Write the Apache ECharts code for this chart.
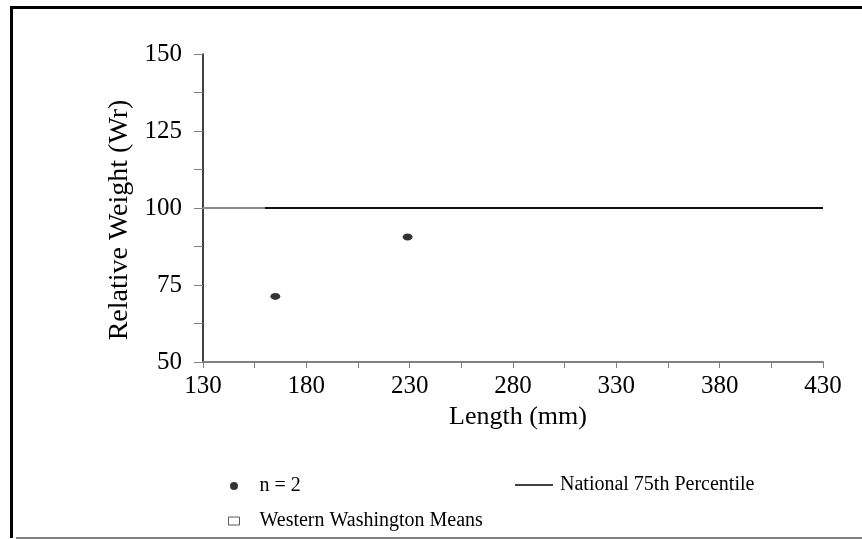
<!DOCTYPE html>
<html>
<head>
<meta charset="utf-8">
<script src="https://cdn.jsdelivr.net/npm/echarts@6/dist/echarts.min.js"></script>
<style>
  html, body { margin: 0; padding: 0; background: #fff; }
  #main { width: 862px; height: 539px; }
</style>
</head>
<body>
<div id="main"></div>
<script>
// fish sampled (n = 2)
const sampleLength = [165, 229];
const sampleWr = [71.3, 90.6];
// national 75th percentile standard line
const nationalLength = [160, 430];
const nationalWr = [100, 100];
// faint lead-in from the axis to the start of the standard line
const leadLength = [130, 160];
const leadWr = [100, 100];
// western washington means: no points in this plot
const westernLength = [];
const westernWr = [];

const xTicks = [130, 430, 50];
const yTicks = [50, 150, 25];

const font = 'Liberation Serif';
const ellipse = 'path://M0,5a5,5 0 1,0 10,0a5,5 0 1,0 -10,0z';

const pairs = (xs, ys) => xs.map((x, i) => [x, ys[i]]);

const chartDom = document.getElementById('main');
const myChart = echarts.init(chartDom);

const option = {
  backgroundColor: '#ffffff',
  animation: false,
  textStyle: { fontFamily: font, color: '#000' },
  grid: { left: 203, right: 39, top: 54, bottom: 177 },
  xAxis: {
    type: 'value',
    min: xTicks[0], max: xTicks[1], interval: xTicks[2],
    name: 'Length (mm)',
    nameLocation: 'middle',
    nameGap: 33,
    nameTextStyle: { fontFamily: font, fontSize: 26, color: '#000', padding: [0, 0, 0, 10] },
    axisLine: { lineStyle: { color: '#808080', width: 2 } },
    axisTick: { show: true, length: 6, lineStyle: { color: '#808080' } },
    minorTick: { show: true, splitNumber: 2, length: 6, lineStyle: { color: '#808080' } },
    axisLabel: { fontFamily: font, fontSize: 25, color: '#000', margin: 12 },
    splitLine: { show: false }
  },
  yAxis: {
    type: 'value',
    min: yTicks[0], max: yTicks[1], interval: yTicks[2],
    name: 'Relative Weight (Wr)',
    nameLocation: 'middle',
    nameGap: 68,
    nameTextStyle: { fontFamily: font, fontSize: 28, color: '#000', padding: [0, 24, 0, 0] },
    axisLine: { show: true, onZero: false, lineStyle: { color: '#000', width: 1.5 } },
    axisTick: { show: true, length: 9, lineStyle: { color: '#808080' } },
    minorTick: { show: true, splitNumber: 2, length: 9, lineStyle: { color: '#808080' } },
    axisLabel: { fontFamily: font, fontSize: 25, color: '#000', margin: 21 },
    splitLine: { show: false }
  },
  legend: [
    {
      orient: 'vertical',
      left: 223, top: 471,
      itemGap: 15,
      itemWidth: 11, itemHeight: 8,
      textStyle: { fontFamily: font, fontSize: 20, color: '#000', padding: [0, 0, 0, 15] },
      data: [
        { name: 'n = 2', icon: ellipse, itemStyle: { color: '#000' } },
        { name: 'Western Washington Means', icon: 'rect',
          itemStyle: { color: '#fff', borderColor: '#333', borderWidth: 1 } }
      ]
    },
    {
      left: 510, top: 470,
      itemWidth: 38, itemHeight: 1.5,
      textStyle: { fontFamily: font, fontSize: 20, color: '#000', padding: [0, 0, 0, 2] },
      data: [{ name: 'National 75th Percentile', icon: 'rect', itemStyle: { color: '#000' } }]
    }
  ],
  graphic: [
    { type: 'rect', shape: { x: 10, y: 6, width: 852, height: 3 }, style: { fill: '#000' }, silent: true },
    { type: 'rect', shape: { x: 10, y: 6, width: 3, height: 532 }, style: { fill: '#000' }, silent: true },
    { type: 'rect', shape: { x: 16, y: 537, width: 846, height: 2 }, style: { fill: '#808080' }, silent: true }
  ],
  series: [
    {
      name: 'lead',
      type: 'line',
      data: pairs(leadLength, leadWr),
      symbol: 'none',
      lineStyle: { color: '#8a8a8a', width: 2 },
      z: 1
    },
    {
      name: 'National 75th Percentile',
      type: 'line',
      data: pairs(nationalLength, nationalWr),
      symbol: 'none',
      itemStyle: { color: '#000' },
      lineStyle: { color: '#111', width: 2 },
      z: 2
    },
    {
      name: 'n = 2',
      type: 'scatter',
      data: pairs(sampleLength, sampleWr),
      symbol: ellipse,
      symbolSize: [10, 7],
      itemStyle: { color: '#000' },
      z: 3
    },
    {
      name: 'Western Washington Means',
      type: 'scatter',
      data: pairs(westernLength, westernWr),
      symbol: 'rect',
      symbolSize: [10, 7],
      itemStyle: { color: '#fff', borderColor: '#000', borderWidth: 1 }
    }
  ]
};

option && myChart.setOption(option);
</script>
</body>
</html>
